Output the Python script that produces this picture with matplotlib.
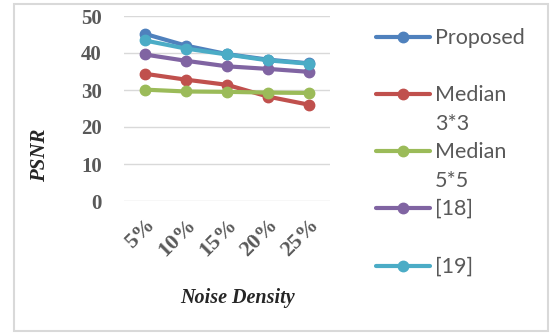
import matplotlib
matplotlib.use("Agg")
import matplotlib.pyplot as plt
from matplotlib.lines import Line2D
from matplotlib.patches import Rectangle

# data
densities = ["5%", "10%", "15%", "20%", "25%"]
proposed = [45.2, 42.0, 39.7, 38.2, 37.2]
median33 = [34.4, 32.8, 31.4, 28.2, 26.0]
median55 = [30.1, 29.6, 29.5, 29.3, 29.2]
ref18 = [39.6, 37.9, 36.4, 35.7, 34.9]
ref19 = [43.4, 41.2, 39.6, 38.0, 37.1]

names = ["Proposed", "Median\n3*3", "Median\n5*5", "[18]", "[19]"]
colors = ["#4F81BD", "#C0504D", "#9BBB59", "#8064A2", "#4BACC6"]
series = [proposed, median33, median55, ref18, ref19]

W, H = 552, 333
fig = plt.figure(figsize=(W / 100, H / 100), dpi=100)

# outer chart frame
fig.patches.append(Rectangle((13.5 / W, 1 - 331 / H), 534 / W, 327 / H,
                             transform=fig.transFigure, fill=False,
                             edgecolor="#D9D9D9", linewidth=1.5))

ax = fig.add_axes([124 / W, 1 - 201 / H, 206 / W, 185 / H])
x = list(range(len(densities)))
for vals, c in zip(series, colors):
    ax.plot(x, vals, color=c, lw=3, marker="o", markersize=7.5, solid_capstyle="round")

ax.set_xlim(-0.5, 4.5)
ax.set_ylim(0, 50)
ax.set_yticks(range(0, 51, 10))
ax.grid(axis="y", color="#D9D9D9", lw=1)
ax.set_axisbelow(True)
for s in ax.spines.values():
    s.set_visible(False)
ax.tick_params(length=0)
ax.tick_params(axis="y", pad=16)
ax.tick_params(axis="x", pad=10)

serif = "Liberation Serif"
ax.set_yticklabels([str(v) for v in range(0, 51, 10)], fontfamily=serif,
                   fontweight="bold", fontsize=15, color="#595959")
ax.set_xticks(x)
ax.set_xticklabels(densities, rotation=45, ha="right", va="top", rotation_mode="anchor",
                   fontfamily=serif, fontweight="bold", fontsize=16, color="#595959")

fig.text(40 / W, 1 - 155 / H, "PSNR", rotation=90, ha="center", va="center",
         fontfamily=serif, fontweight="bold", fontstyle="italic", fontsize=15, color="#262626")
fig.text(237 / W, 1 - 298 / H, "Noise Density", ha="center", va="center",
         fontfamily=serif, fontweight="bold", fontstyle="italic", fontsize=14.5, color="#262626")

# legend drawn by hand to get the wrapped labels like the original
ys = [37, 94, 151, 208, 266]
for name, c, yy in zip(names, colors, ys):
    fy = 1 - yy / H
    fig.lines.append(Line2D([376 / W, 430 / W], [fy, fy], transform=fig.transFigure,
                            color=c, lw=3, solid_capstyle="round"))
    fig.lines.append(Line2D([403 / W], [fy], transform=fig.transFigure,
                            color=c, marker="o", markersize=7.5))
    for i, part in enumerate(name.split("\n")):
        fig.text(435 / W, 1 - (yy + 7 + 29 * i) / H, part, ha="left", va="baseline",
                 fontfamily="Lato", fontsize=15.5, color="#595959")

fig.savefig("out.png", dpi=100)
